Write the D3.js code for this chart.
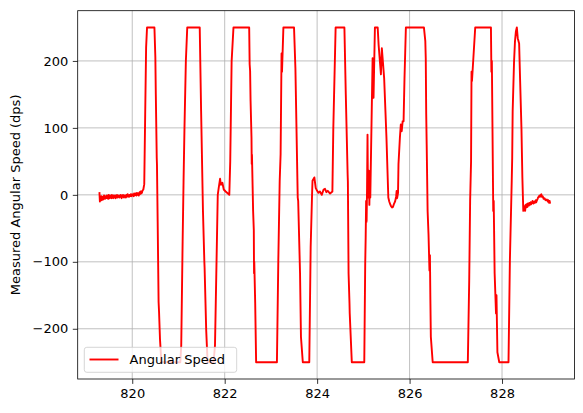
<!DOCTYPE html>
<html><head><meta charset="utf-8">
<script src="https://cdn.jsdelivr.net/npm/d3@7"></script>
<style>
body{margin:0;background:#fff;}
svg{display:block;font-family:"DejaVu Sans",sans-serif;}
</style></head>
<body>
<svg id="chart" width="583" height="413"></svg>
<script>
const time = [
819.29,819.30,819.31,819.32,819.33,819.34,819.35,819.36,819.37,819.38,819.39,819.40,819.41,819.42,819.43,819.44,819.45,819.46,819.47,819.48,819.49,819.50,819.51,819.52,819.53,819.54,819.55,819.56,819.57,819.58,819.59,819.60,819.61,819.62,819.63,819.64,819.65,819.66,819.67,819.68,819.69,819.70,819.71,819.72,819.73,819.74,819.75,819.76,819.77,819.78,819.79,819.80,819.81,819.82,819.83,819.84,819.85,819.86,819.87,819.88,819.89,819.90,819.91,819.92,819.93,819.94,819.95,819.96,819.97,819.98,819.99,820.00,820.01,820.02,820.03,820.04,820.05,820.06,820.07,820.08,820.09,820.10,820.11,820.12,820.13,820.14,820.15,820.16,820.17,820.18,820.19,820.20,820.21,820.22,
820.24,820.26,820.28,820.30,820.32,820.48,820.50,820.51,820.53,820.535,820.55,820.57,820.58,820.60,820.63,821.04,821.06,821.09,821.11,821.13,821.16,821.19,821.46,821.49,821.53,821.56,821.565,821.60,821.63,821.76,821.79,821.85,821.87,821.90,821.92,821.95,821.98,822.02,822.07,822.10,822.12,822.15,822.19,
822.53,822.54,822.55,822.56,822.58,822.585,822.59,822.615,822.63,822.635,822.64,822.66,822.68,823.13,823.16,823.19,823.21,823.23,823.24,823.27,823.50,823.53,823.58,823.59,823.63,823.65,823.69,823.83,823.86,823.89,823.90,823.94,823.97,824.00,824.03,824.06,824.10,824.14,824.17,824.20,824.23,824.28,824.33,824.35,824.40,
824.59,824.62,824.66,824.665,824.68,824.70,824.705,824.75,825.02,825.04,825.05,825.06,825.07,825.08,825.09,825.10,825.11,825.12,825.13,825.14,825.15,825.20,825.22,825.25,825.31,825.33,825.38,825.40,825.45,825.50,825.54,825.56,825.58,825.60,825.62,825.64,825.66,825.68,825.69,825.71,825.72,825.73,825.75,825.76,825.79,825.81,825.83,825.85,825.87,825.89,825.92,
826.31,826.34,826.35,826.36,826.37,826.39,826.41,826.43,826.44,826.45,826.46,826.50,827.26,827.29,827.31,827.33,827.34,827.35,827.42,827.76,827.77,827.78,827.81,827.82,827.84,827.87,827.88,827.90,827.94,828.14,828.17,828.21,828.22,828.23,828.26,828.28,828.30,828.32,828.34,828.37,828.39,828.42,828.44,828.46,828.47,828.48,828.49,828.50,828.51,828.52,828.53,828.55,828.56,828.58,828.59,828.60,828.62,828.63,828.65,828.66,828.68,828.70,828.71,828.73,828.74,828.75,828.77,828.78,828.80,828.81,828.82,828.84,828.85,828.86,828.88,828.90,828.92,828.94,828.97,828.99,829.00,829.02,829.03,829.04,829.06
];
const speed = [
4,-10,-5,-7,-2,-8,-4,-3,-7,-5,-1,-4,-6,-2,-5,-3,-1,-5,-3,-6,0,-3,-5,-1,-4,-2,-5,0,-3,-2,-5,-1,-3,-4,-1,-5,-2,-3,0,-4,-2,-3,-1,-4,-2,-3,0,-3,-5,-1,-3,0,-2,-4,-1,-3,-2,-4,0,-3,-1,1,-2,-1,-3,0,-2,-1,1,-2,0,1,-1,0,-2,2,-1,0,2,1,-1,3,0,2,1,-1,3,4,1,5,2,5,3,6,
8,16,120,220,250,250,205,150,55,45,-40,-160,-175,-215,-250,-250,-225,-70,20,100,200,250,250,125,-24,-100,-108,-202,-250,-250,-225,0,10,24,15,18,8,5,2,0,50,199,250,
250,195,185,140,85,46,60,-24,-53,-117,-100,-162,-250,-250,-98,21,61,211,184,250,250,189,-4,-9,-117,-212,-250,-250,-78,0,21,26,10,6,3,5,0,8,9,4,6,2,5,100,250,
250,150,30,20,-117,-162,-177,-250,-250,-103,-64,-9,-40,10,90,-4,20,36,-15,30,-4,204,145,250,250,224,180,219,174,85,-4,-10,-14,-17,-19,-18,-14,-11,-9,-2,6,-5,3,46,85,105,95,110,110,174,250,
250,230,204,120,75,-24,-60,-113,-90,-157,-212,-250,-250,-128,-9,50,184,170,250,250,184,200,-24,-9,-117,-177,-150,-235,-250,-250,-98,21,55,125,199,229,244,250,234,226,174,100,26,-24,-18,-22,-17,-24,-15,-19,-14,-18,-13,-16,-12,-15,-11,-14,-12,-9,-13,-10,-12,-8,-11,-9,-6,-4,-2,-1,-3,0,1,-3,-2,-6,-5,-8,-7,-10,-8,-12,-9,-13
];
const xTicks = [820, 822, 824, 826, 828];
const yTicks = [-200, -100, 0, 100, 200];
const seriesName = "Angular Speed";
const yLabel = "Measured Angular Speed (dps)";

const L = 77.7, R = 574.6, T = 10.7, B = 379;
const svg = d3.select("#chart");
const x = d3.scaleLinear().domain([818.82, 829.57]).range([L, R]);
const y = d3.scaleLinear().domain([-275, 275]).range([B, T]);

// grid
const g = svg.append("g");
g.selectAll(".gx").data(xTicks).enter().append("line")
  .attr("x1", d => x(d)).attr("x2", d => x(d)).attr("y1", T).attr("y2", B)
  .attr("stroke", "#b0b0b0").attr("stroke-width", 0.8);
g.selectAll(".gy").data(yTicks).enter().append("line")
  .attr("y1", d => y(d)).attr("y2", d => y(d)).attr("x1", L).attr("x2", R)
  .attr("stroke", "#b0b0b0").attr("stroke-width", 0.8);

// line
const data = time.map((t, i) => [t, speed[i]]);
svg.append("path").datum(data)
  .attr("d", d3.line().x(d => x(d[0])).y(d => y(d[1])))
  .attr("fill", "none").attr("stroke", "#ff0000").attr("stroke-width", 1.9)
  .attr("stroke-linejoin", "round");

// axes
const xAxis = svg.append("g").attr("transform", `translate(0,${B})`)
  .call(d3.axisBottom(x).tickValues(xTicks).tickSize(4.9).tickPadding(4.5).tickFormat(d3.format("d")));
const yAxis = svg.append("g").attr("transform", `translate(${L},0)`)
  .call(d3.axisLeft(y).tickValues(yTicks).tickSize(4.9).tickPadding(4.5).tickFormat(d => d < 0 ? "\u2212" + Math.abs(d) : d));
[xAxis, yAxis].forEach(a => {
  a.select(".domain").remove();
  a.selectAll("line").attr("stroke", "#000").attr("stroke-width", 0.8);
  a.selectAll("text").attr("font-size", 13).attr("fill", "#000").attr("font-family", "DejaVu Sans");
});

// frame
svg.append("rect").attr("x", L).attr("y", T).attr("width", R - L).attr("height", B - T)
  .attr("fill", "none").attr("stroke", "#000").attr("stroke-width", 0.8);

// y label
svg.append("text").attr("transform", `translate(20,${(T + B) / 2}) rotate(-90)`)
  .attr("text-anchor", "middle").attr("font-size", 13).attr("fill", "#000")
  .text(yLabel);

// legend
const lg = svg.append("g");
lg.append("rect").attr("x", 84.3).attr("y", 347.3).attr("width", 152.4).attr("height", 25)
  .attr("rx", 2.5).attr("fill", "#fff").attr("fill-opacity", 0.8)
  .attr("stroke", "#cccccc").attr("stroke-width", 0.8);
lg.append("line").attr("x1", 89.5).attr("x2", 118.5).attr("y1", 359.5).attr("y2", 359.5)
  .attr("stroke", "#ff0000").attr("stroke-width", 1.9);
lg.append("text").attr("x", 129.5).attr("y", 359.5).attr("dy", "0.35em")
  .attr("font-size", 13).attr("fill", "#000").text(seriesName);
</script>
</body></html>
